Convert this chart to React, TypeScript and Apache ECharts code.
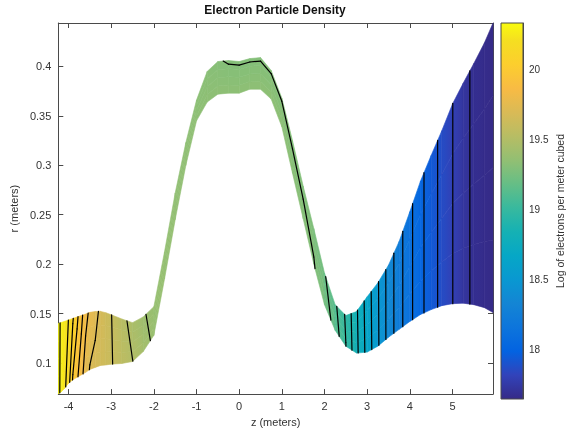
import React, { useEffect, useRef } from "react";
import * as echarts from "echarts";

// ---- data ----
const zValues = [-4.24, -4.17, -4.1, -4.0, -3.9, -3.8, -3.7, -3.6, -3.5, -3.375, -3.25, -3.125, -3.0,
  -2.75, -2.5, -2.25, -2.0,
  -1.75, -1.5, -1.25, -1.0, -0.75, -0.5, -0.25,
  0, 0.25, 0.5, 0.75, 1.0, 1.25, 1.5, 1.75,
  2.0, 2.25, 2.5, 2.75, 3.0, 3.25, 3.5, 3.75, 4.0, 4.25, 4.5, 4.75, 5.0, 5.25, 5.5, 5.75, 5.95];

const rTop = [0.140, 0.141, 0.142, 0.1435, 0.145, 0.1465, 0.148, 0.1495, 0.1512, 0.152, 0.1522, 0.1508, 0.1488,
  0.1445, 0.1408, 0.1466, 0.157,
  0.2125, 0.272, 0.323, 0.366, 0.395, 0.405, 0.406,
  0.405, 0.408, 0.409, 0.396, 0.368, 0.325, 0.279, 0.236,
  0.191, 0.159, 0.148, 0.152, 0.167, 0.181, 0.199, 0.223, 0.253, 0.284, 0.310, 0.335, 0.362, 0.383, 0.403, 0.424, 0.444];

const rBottom = [0.0685, 0.071, 0.074, 0.0795, 0.083, 0.0855, 0.088, 0.0905, 0.0935, 0.0955, 0.0975, 0.098, 0.0988,
  0.0995, 0.1015, 0.1115, 0.128,
  0.185, 0.245, 0.300, 0.345, 0.364, 0.372, 0.373,
  0.373, 0.377, 0.377, 0.367, 0.339, 0.292, 0.246, 0.200,
  0.159, 0.133, 0.117, 0.110, 0.111, 0.117, 0.126, 0.134, 0.142, 0.149, 0.154, 0.158, 0.160, 0.1605, 0.159, 0.156, 0.151];

const densityTop = [20.33, 20.28, 20.245, 20.198, 20.11, 20.02, 19.93, 19.83, 19.78, 19.73, 19.68, 19.64, 19.603,
  19.53, 19.467, 19.407, 19.38,
  19.36, 19.35, 19.34, 19.33, 19.32, 19.305, 19.295,
  19.295, 19.295, 19.295, 19.295, 19.295, 19.29, 19.29, 19.28,
  19.21, 19.12, 18.985, 18.815, 18.655, 18.51, 18.363, 18.238, 18.126, 18.027, 17.945, 17.871, 17.802, 17.734, 17.68, 17.665, 17.65];

const densityBottom = [20.33, 20.27, 20.23, 20.14, 19.99, 19.918, 19.833, 19.75, 19.693, 19.672, 19.65, 19.628, 19.607,
  19.555, 19.502, 19.441, 19.38,
  19.37, 19.36, 19.35, 19.34, 19.34, 19.34, 19.34,
  19.34, 19.34, 19.34, 19.34, 19.34, 19.33, 19.315, 19.305,
  19.26, 19.16, 19.002, 18.825, 18.665, 18.515, 18.363, 18.238, 18.126, 18.027, 17.945, 17.871, 17.802, 17.734, 17.68, 17.665, 17.65];

const contourLevels = [17.7, 17.8, 17.9, 18.0, 18.1, 18.2, 18.3, 18.4, 18.5, 18.6, 18.7, 18.8, 18.9, 19.0,
  19.1, 19.2, 19.3, 19.4, 19.5, 19.6, 19.7, 19.8, 19.9, 20.0, 20.1, 20.2, 20.3];

const xTicks = [-4, -3, -2, -1, 0, 1, 2, 3, 4, 5];
const yTicks = [0.1, 0.15, 0.2, 0.25, 0.3, 0.35, 0.4];
const colorbarTicks = [18, 18.5, 19, 19.5, 20];

const titleText = "Electron Particle Density";
const xName = "z (meters)";
const yName = "r (meters)";
const colorbarName = "Log of electrons per meter cubed";

// ---- parula colormap ----
const PARULA = ["#352a87", "#3243ba", "#0363e1", "#0d75dc", "#1485d4", "#0998d1", "#06a7c6", "#15b1b4",
  "#38b99e", "#65be86", "#92bf73", "#b7bd64", "#d9ba56", "#f8bb44", "#fcce2e", "#f5de21", "#f9fb0e"];
const PARULA_POS = [0, 4, 8, 12, 16, 20, 24, 28, 32, 36, 40, 44, 48, 52, 56, 60, 63];

const FONT = "'Liberation Sans', Arial, Helvetica, sans-serif";
const AXIS_COLOR = "#4a4a4a";
const TEXT_COLOR = "#333333";

function hexToRgb(h: string): number[] {
  return [parseInt(h.slice(1, 3), 16), parseInt(h.slice(3, 5), 16), parseInt(h.slice(5, 7), 16)];
}
const PARULA_RGB = PARULA.map(hexToRgb);

export default function App() {
  const ref = useRef<HTMLDivElement>(null);

  useEffect(() => {
    const el = ref.current;
    if (!el) return;
    const chart = echarts.init(el, null, { renderer: "svg" });

    const allV = densityTop.concat(densityBottom);
    const cMin = Math.min(...allV);
    const cMax = Math.max(...allV);
    const zMin = zValues[0];
    const zMax = zValues[zValues.length - 1];
    const rMin = Math.min(...rBottom);
    const rMax = Math.max(...rTop);

    const rgbAt = (v: number): number[] => {
      let t = (v - cMin) / (cMax - cMin);
      t = Math.max(0, Math.min(1, t));
      const idx = t * 63;
      let j = 0;
      while (j < PARULA_POS.length - 2 && idx > PARULA_POS[j + 1]) j++;
      const f = (idx - PARULA_POS[j]) / (PARULA_POS[j + 1] - PARULA_POS[j]);
      const a = PARULA_RGB[j], b = PARULA_RGB[j + 1];
      return [0, 1, 2].map((k) => Math.round(a[k] + f * (b[k] - a[k])));
    };
    const colorAt = (v: number) => {
      const c = rgbAt(v);
      return `rgb(${c[0]},${c[1]},${c[2]})`;
    };

    const n = zValues.length;
    const NSUB = 4;
    const rAt = (i: number, t: number) => rBottom[i] + t * (rTop[i] - rBottom[i]);
    const vAt = (i: number, t: number) => densityBottom[i] + t * (densityTop[i] - densityBottom[i]);

    const fillData: number[][] = [];
    for (let i = 0; i < n - 1; i++) {
      for (let k = 0; k < NSUB; k++) {
        const t0 = k / NSUB, t1 = (k + 1) / NSUB, tm = (t0 + t1) / 2;
        fillData.push([zValues[i], rAt(i, t0), rAt(i, t1), vAt(i, tm),
          zValues[i + 1], rAt(i + 1, t0), rAt(i + 1, t1), vAt(i + 1, tm)]);
      }
    }

    const segData: number[][] = [];
    for (let i = 0; i < n - 1; i++) {
      const A = [zValues[i], rBottom[i], densityBottom[i]];
      const B = [zValues[i + 1], rBottom[i + 1], densityBottom[i + 1]];
      const C = [zValues[i + 1], rTop[i + 1], densityTop[i + 1]];
      const D = [zValues[i], rTop[i], densityTop[i]];
      const edges = [[A, B], [B, C], [C, D], [D, A]];
      for (const L of contourLevels) {
        const pts: number[][] = [];
        for (const [P, Q] of edges) {
          if ((P[2] - L) * (Q[2] - L) < 0) {
            const f = (L - P[2]) / (Q[2] - P[2]);
            pts.push([P[0] + f * (Q[0] - P[0]), P[1] + f * (Q[1] - P[1])]);
          }
        }
        if (pts.length >= 2) segData.push([pts[0][0], pts[0][1], pts[1][0], pts[1][1]]);
        if (pts.length === 4) segData.push([pts[2][0], pts[2][1], pts[3][0], pts[3][1]]);
      }
    }

    const labelStyle = { color: TEXT_COLOR, fontSize: 11, fontFamily: FONT };
    const lineStyle = { color: AXIS_COLOR, width: 1 };

    const cbStops = PARULA.map((c, j) => ({ offset: 1 - PARULA_POS[j] / 63, color: c })).reverse();

    const option: any = {
      animation: false,
      graphic: [
        {
          type: "text",
          x: 275,
          y: 10,
          style: {
            text: titleText,
            align: "center",
            verticalAlign: "middle",
            textAlign: "center",
            textVerticalAlign: "middle",
            fontSize: 12,
            fontWeight: "bold",
            fontFamily: FONT,
            fill: "#111",
          },
        },
      ],
      grid: [
        { left: 57, right: 73, top: 23, bottom: 33 },
        { left: 501, width: 23, top: 23, bottom: 33 },
      ],
      xAxis: [
        {
          gridIndex: 0, type: "value", min: zMin, max: zMax, position: "bottom",
          axisLine: { show: true, onZero: false, lineStyle },
          axisTick: { show: true, inside: true, length: 5, customValues: xTicks, lineStyle },
          axisLabel: { ...labelStyle, margin: 6, customValues: xTicks, formatter: (v: number) => String(v) },
          splitLine: { show: false },
          name: xName, nameLocation: "middle", nameGap: 20,
          nameTextStyle: { color: TEXT_COLOR, fontSize: 11, fontFamily: FONT },
        },
        {
          gridIndex: 0, type: "value", min: zMin, max: zMax, position: "top",
          axisLine: { show: true, onZero: false, lineStyle },
          axisTick: { show: true, inside: true, length: 5, customValues: xTicks, lineStyle },
          axisLabel: { show: false },
          splitLine: { show: false },
        },
        { gridIndex: 1, type: "value", min: 0, max: 1, show: false },
      ],
      yAxis: [
        {
          gridIndex: 0, type: "value", min: rMin, max: rMax, position: "left",
          axisLine: { show: true, onZero: false, lineStyle },
          axisTick: { show: true, inside: true, length: 5, customValues: yTicks, lineStyle },
          axisLabel: { ...labelStyle, margin: 7, customValues: yTicks, formatter: (v: number) => String(v) },
          splitLine: { show: false },
          name: yName, nameLocation: "middle", nameGap: 38, nameRotate: 90,
          nameTextStyle: { color: TEXT_COLOR, fontSize: 11, fontFamily: FONT },
        },
        {
          gridIndex: 0, type: "value", min: rMin, max: rMax, position: "right",
          axisLine: { show: true, onZero: false, lineStyle },
          axisTick: { show: true, inside: true, length: 5, customValues: yTicks, lineStyle },
          axisLabel: { show: false },
          splitLine: { show: false },
        },
        {
          gridIndex: 1, type: "value", min: cMin, max: cMax, position: "right",
          axisLine: { show: true, onZero: false, lineStyle },
          axisTick: { show: true, inside: true, length: 3, customValues: colorbarTicks, lineStyle },
          axisLabel: { color: TEXT_COLOR, fontSize: 10, fontFamily: FONT, margin: 6, customValues: colorbarTicks, formatter: (v: number) => String(v) },
          splitLine: { show: false },
          name: colorbarName, nameLocation: "middle", nameGap: 31, nameRotate: 90,
          nameTextStyle: { color: TEXT_COLOR, fontSize: 10.5, fontFamily: FONT },
        },
      ],
      series: [
        {
          type: "custom",
          xAxisIndex: 0,
          yAxisIndex: 0,
          clip: true,
          silent: true,
          data: fillData,
          encode: { x: 0, y: 1 },
          renderItem: (params: any, api: any) => {
            const p1 = api.coord([api.value(0), api.value(1)]);
            const p2 = api.coord([api.value(4), api.value(5)]);
            const p3 = api.coord([api.value(4), api.value(6)]);
            const p4 = api.coord([api.value(0), api.value(2)]);
            const v0 = api.value(3), v1 = api.value(7);
            return {
              type: "polygon",
              shape: { points: [p1, p2, p3, p4] },
              style: {
                fill: new echarts.graphic.LinearGradient(0, 0, 1, 0, [
                  { offset: 0, color: colorAt(v0) },
                  { offset: 1, color: colorAt(v1) },
                ]),
                stroke: colorAt((v0 + v1) / 2),
                lineWidth: 0.6,
              },
            };
          },
        },
        {
          type: "custom",
          xAxisIndex: 0,
          yAxisIndex: 0,
          clip: true,
          silent: true,
          z: 5,
          data: segData,
          encode: { x: 0, y: 1 },
          renderItem: (params: any, api: any) => {
            const a = api.coord([api.value(0), api.value(1)]);
            const b = api.coord([api.value(2), api.value(3)]);
            return {
              type: "line",
              shape: { x1: a[0], y1: a[1], x2: b[0], y2: b[1] },
              style: { stroke: "#000", lineWidth: 1.2, lineCap: "round" },
            };
          },
        },
        {
          type: "custom",
          xAxisIndex: 2,
          yAxisIndex: 2,
          silent: true,
          data: [[0, cMin, 1, cMax]],
          encode: { x: 0, y: 1 },
          renderItem: (params: any, api: any) => {
            const p0 = api.coord([api.value(0), api.value(3)]);
            const p1 = api.coord([api.value(2), api.value(1)]);
            return {
              type: "rect",
              shape: { x: p0[0], y: p0[1], width: p1[0] - p0[0], height: p1[1] - p0[1] },
              style: {
                fill: new echarts.graphic.LinearGradient(0, 0, 0, 1, cbStops),
                stroke: AXIS_COLOR,
                lineWidth: 1,
              },
            };
          },
        },
      ],
    };

    chart.setOption(option);
    return () => chart.dispose();
  }, []);

  return <div ref={ref} style={{ position: "fixed", left: 0, top: 0, width: 566, height: 432 }} />;
}
